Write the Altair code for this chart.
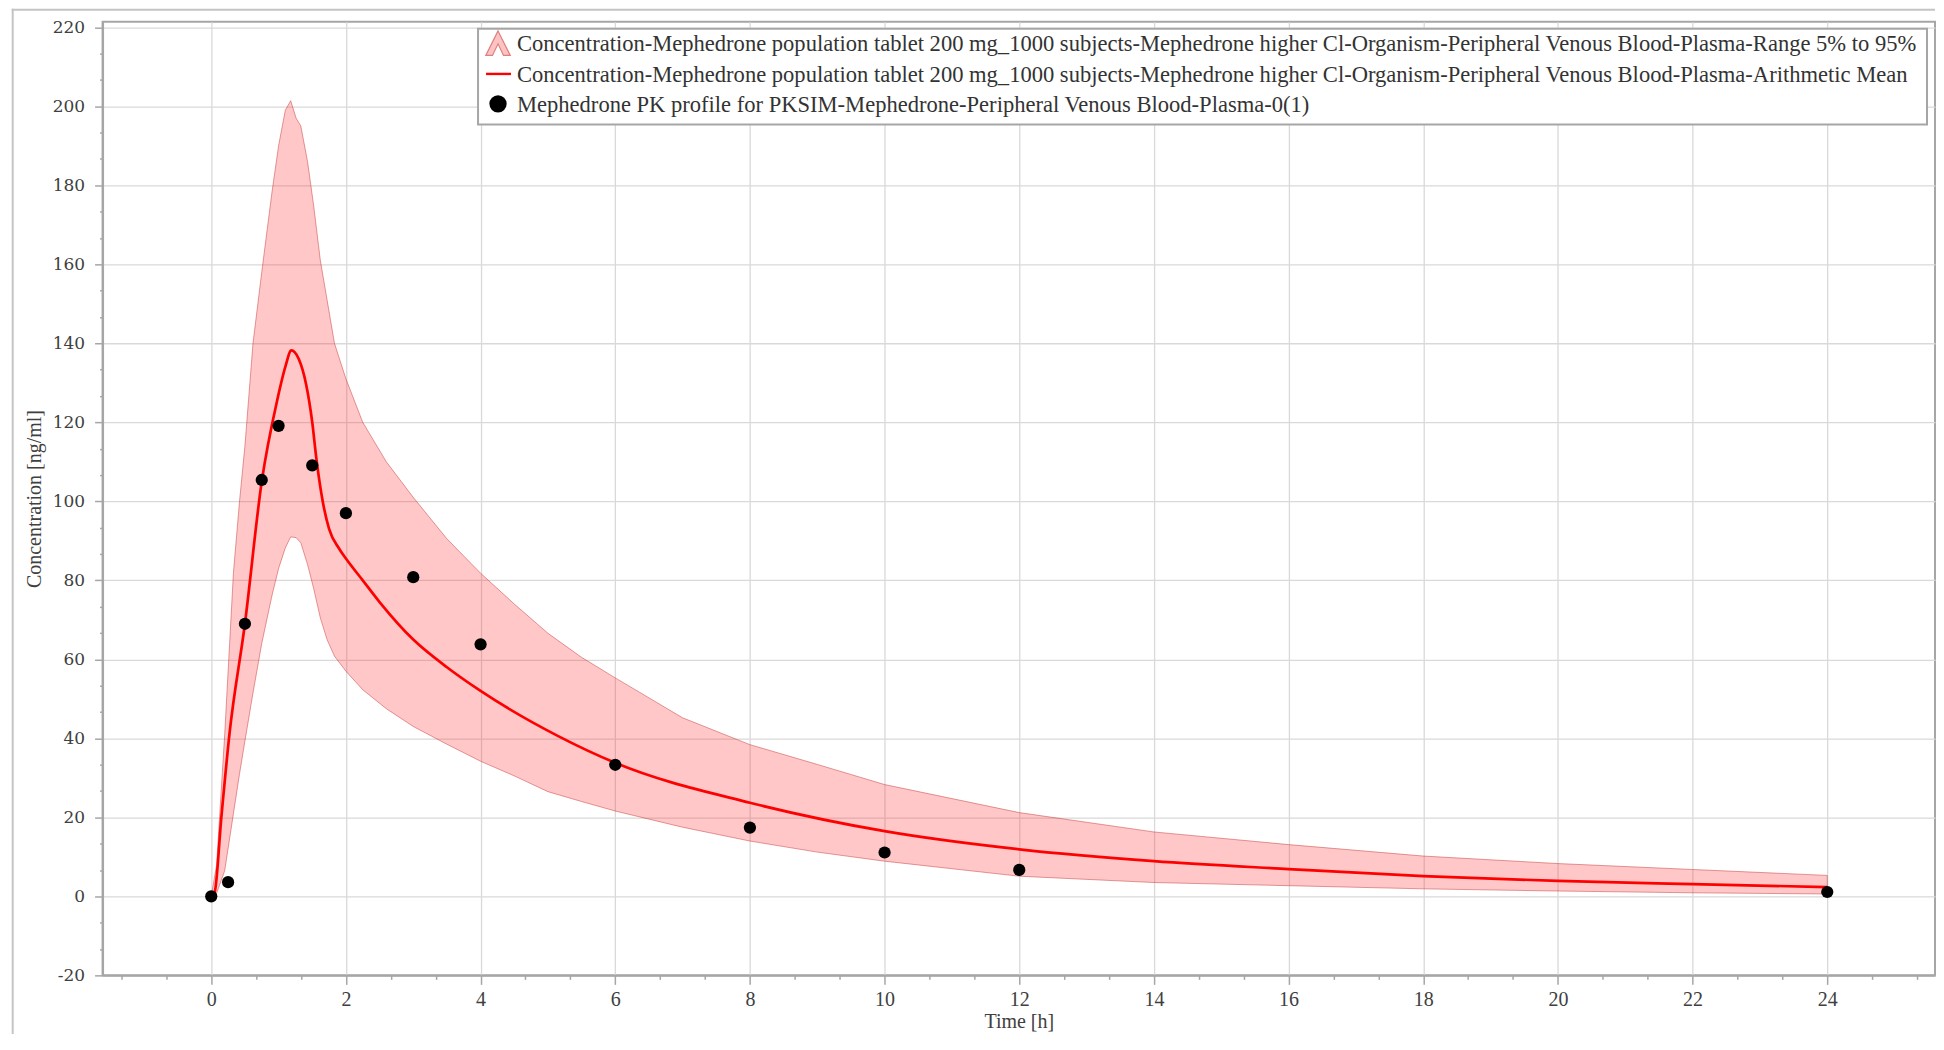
import altair as alt
import pandas as pd

# ---------------- data ----------------
obs_t = [0, 0.25, 0.5, 0.75, 1, 1.5, 2, 3, 4, 6, 8, 10, 12, 24]
obs_c = [0, 3.6, 69, 105.4, 119.1, 109.1, 97, 80.8, 63.8, 33.3, 17.4, 11.1, 6.7, 1.1]

mean_t = [0, 0.05, 0.15, 0.27, 0.5, 0.75, 0.98, 1.1, 1.19, 1.3, 1.41, 1.5, 1.56, 1.65,
          1.75, 1.9, 2.0, 2.25, 2.5, 3.0, 3.5, 4.0, 5.16, 6, 8, 10, 12, 14, 16, 18, 20, 22, 24]
mean_c = [0, 1, 20, 41, 69, 105, 125.6, 134, 138.2, 136, 129.5, 120, 111, 100.5,
          93, 88, 85.5, 80, 74.5, 65, 58, 52, 40.5, 33.8, 23.7, 16.5, 11.9, 8.9, 6.9, 5.1, 3.9, 3.1, 2.35]

band_t = [0, 0.08, 0.2, 0.33, 0.42, 0.5, 0.62, 0.75, 0.9, 1.0, 1.1, 1.18, 1.26, 1.33, 1.43,
          1.52, 1.62, 1.72, 1.83, 2.0, 2.25, 2.6, 3.0, 3.5, 4.0, 4.5, 5.0, 5.5, 6.0, 7.0, 8.0,
          9.0, 10.0, 12.0, 14.0, 16.0, 18.0, 20.0, 22.0, 24.0]
band_hi = [0, 8, 41, 82, 100, 114, 140, 158, 178, 190, 199, 201.4, 197, 195, 186,
           175, 161, 151, 140, 131, 120, 110, 101, 90.5, 81.8, 74, 66.6, 60.5, 55.3, 45.2, 38.4,
           33.4, 28.3, 21.2, 16.3, 13.1, 10.2, 8.3, 6.8, 5.3]
band_lo = [0, 0.8, 6.5, 21, 31, 39.3, 51.5, 64, 76, 83, 88.2, 91, 90.8, 89.5, 84,
           78, 70.5, 65, 60.8, 57, 52.3, 47.5, 43, 38.5, 34.2, 30.5, 26.5, 24, 21.6, 17.5, 14.0,
           11.2, 8.9, 5.1, 3.5, 2.7, 1.9, 1.35, 0.9, 0.6]

legend_labels = [
    "Concentration-Mephedrone population tablet 200 mg_1000 subjects-Mephedrone higher Cl-Organism-Peripheral Venous Blood-Plasma-Range 5% to 95%",
    "Concentration-Mephedrone population tablet 200 mg_1000 subjects-Mephedrone higher Cl-Organism-Peripheral Venous Blood-Plasma-Arithmetic Mean",
    "Mephedrone PK profile for PKSIM-Mephedrone-Peripheral Venous Blood-Plasma-0(1)",
]

x_title = "Time [h]"
y_title = "Concentration [ng/ml]"

# ---------------- layout constants ----------------
W, H = 1835, 955
SERIF = "Liberation Serif"

x_ticks = [round(-4 / 3 + i * 2 / 3, 6) + 0.0 for i in range(41)]
y_ticks = [round(-20 + i * 20 / 3, 6) + 0.0 for i in range(37)]

MAJ_X = "abs(datum.value/2 - round(datum.value/2)) < 0.001"
MAJ_Y = "abs(datum.value/20 - round(datum.value/20)) < 0.001"

x_scale = alt.Scale(domain=[-1.614, 25.6], nice=False, zero=False)
y_scale = alt.Scale(domain=[-20, 221.4], nice=False, zero=False)

x_axis = alt.Axis(
    values=x_ticks, tickCount=500,
    title=x_title,
    titleFont=SERIF, titleFontSize=20, titleFontWeight="normal", titleColor="#404040",
    titleBaseline="alphabetic", titleY=52.5,
    labelFont=SERIF, labelFontSize=20, labelColor="#404040", labelPadding=5,
    labelExpr=f"{MAJ_X} ? '' + round(datum.value) : ''",
    labelFlush=False, labelOverlap=False,
    grid=True, gridColor="#d9d9d9", gridWidth=1.3,
    gridOpacity={"condition": {"test": MAJ_X, "value": 1}, "value": 0},
    tickSize={"condition": {"test": MAJ_X, "value": 9}, "value": 4},
    tickColor="#a6a6a6", tickWidth=1.5,
    domainColor="#a6a6a6", domainWidth=2,
)
y_axis = alt.Axis(
    values=y_ticks, tickCount=500,
    title=y_title,
    titleFont=SERIF, titleFontSize=20, titleFontWeight="normal", titleColor="#404040",
    titleX=-58.5,
    labelFont="DejaVu Serif", labelFontSize=17, labelColor="#404040", labelPadding=10,
    labelExpr=f"{MAJ_Y} ? '' + round(datum.value) : ''",
    labelFlush=False, labelOverlap=False,
    grid=True, gridColor="#d9d9d9", gridWidth=1.3,
    gridOpacity={"condition": {"test": MAJ_Y, "value": 1}, "value": 0},
    tickSize={"condition": {"test": MAJ_Y, "value": 8}, "value": 3},
    tickColor="#a6a6a6", tickWidth=1.5,
    domainColor="#a6a6a6", domainWidth=2,
)

band_df = pd.DataFrame({"t": band_t, "hi": band_hi, "lo": band_lo})
mean_df = pd.DataFrame({"t": mean_t, "c": mean_c})
obs_df = pd.DataFrame({"t": obs_t, "c": obs_c})
one = pd.DataFrame({"k": [0]})

band = alt.Chart(band_df).mark_area(
    fill="#ff1f1f", fillOpacity=0.25, stroke="#c02828", strokeOpacity=0.45, strokeWidth=1
).encode(
    x=alt.X("t:Q", scale=x_scale, axis=x_axis),
    y=alt.Y("hi:Q", scale=y_scale, axis=y_axis),
    y2="lo:Q",
)

mean = alt.Chart(mean_df).mark_line(
    color="#ff0000", strokeWidth=2.7, interpolate="monotone"
).encode(x="t:Q", y="c:Q")

obs = alt.Chart(obs_df).mark_circle(size=150, color="#000000", opacity=1).encode(
    x="t:Q", y="c:Q"
)

# ---------------- legend (drawn) ----------------
LX1, LX2, LY1, LY2 = 376, 1827, 7, 103
ROW_Y = [21.5, 52.3, 82.2]
SYM_X = 396
TXT_X = 415

leg_box = alt.Chart(one).mark_rect(
    fill="#ffffff", stroke="#a6a6a6", strokeWidth=2
).encode(x=alt.value(LX1), x2=alt.value(LX2), y=alt.value(LY1), y2=alt.value(LY2))

tri_path = "M0,-1 L1,1 L0.45,1 L0,0.05 L-0.45,1 L-1,1 Z"
leg_sym1 = alt.Chart(one).mark_point(
    shape=tri_path, size=600, filled=True, fill="#fcc3c3", stroke="#e07f7f",
    strokeWidth=1.2, opacity=1
).encode(x=alt.value(SYM_X), y=alt.value(ROW_Y[0]))

leg_sym2 = alt.Chart(one).mark_rule(color="#ff0000", strokeWidth=2.4).encode(
    x=alt.value(SYM_X - 12), x2=alt.value(SYM_X + 13), y=alt.value(ROW_Y[1])
)

leg_sym3 = alt.Chart(one).mark_circle(size=300, color="#000000", opacity=1).encode(
    x=alt.value(SYM_X), y=alt.value(ROW_Y[2])
)

leg_texts = [
    alt.Chart(pd.DataFrame({"label": [lab]})).mark_text(
        align="left", baseline="middle", font=SERIF, fontSize=22.6, color="#333333"
    ).encode(x=alt.value(TXT_X), y=alt.value(ROW_Y[i] + 1), text="label:N")
    for i, lab in enumerate(legend_labels)
]

# outer figure border (left & top)
border_left = alt.Chart(one).mark_rule(color="#c4c4c4", strokeWidth=2).encode(
    x=alt.value(-90), y=alt.value(-13), y2=alt.value(H + 60)
)
border_top = alt.Chart(one).mark_rule(color="#c4c4c4", strokeWidth=2).encode(
    x=alt.value(-91), x2=alt.value(W), y=alt.value(-12)
)

chart = alt.layer(
    band, mean, obs, leg_box, leg_sym1, leg_sym2, leg_sym3, *leg_texts,
    border_left, border_top,
).properties(
    width=W, height=H,
    autosize=alt.AutoSizeParams(type="none"),
    padding={"left": 94.7, "top": 13, "right": 1, "bottom": 58},
    background="#ffffff",
).configure_view(
    stroke="#a6a6a6", strokeWidth=2
)

chart.save("out.html", embed_options={"renderer": "svg", "actions": False})
